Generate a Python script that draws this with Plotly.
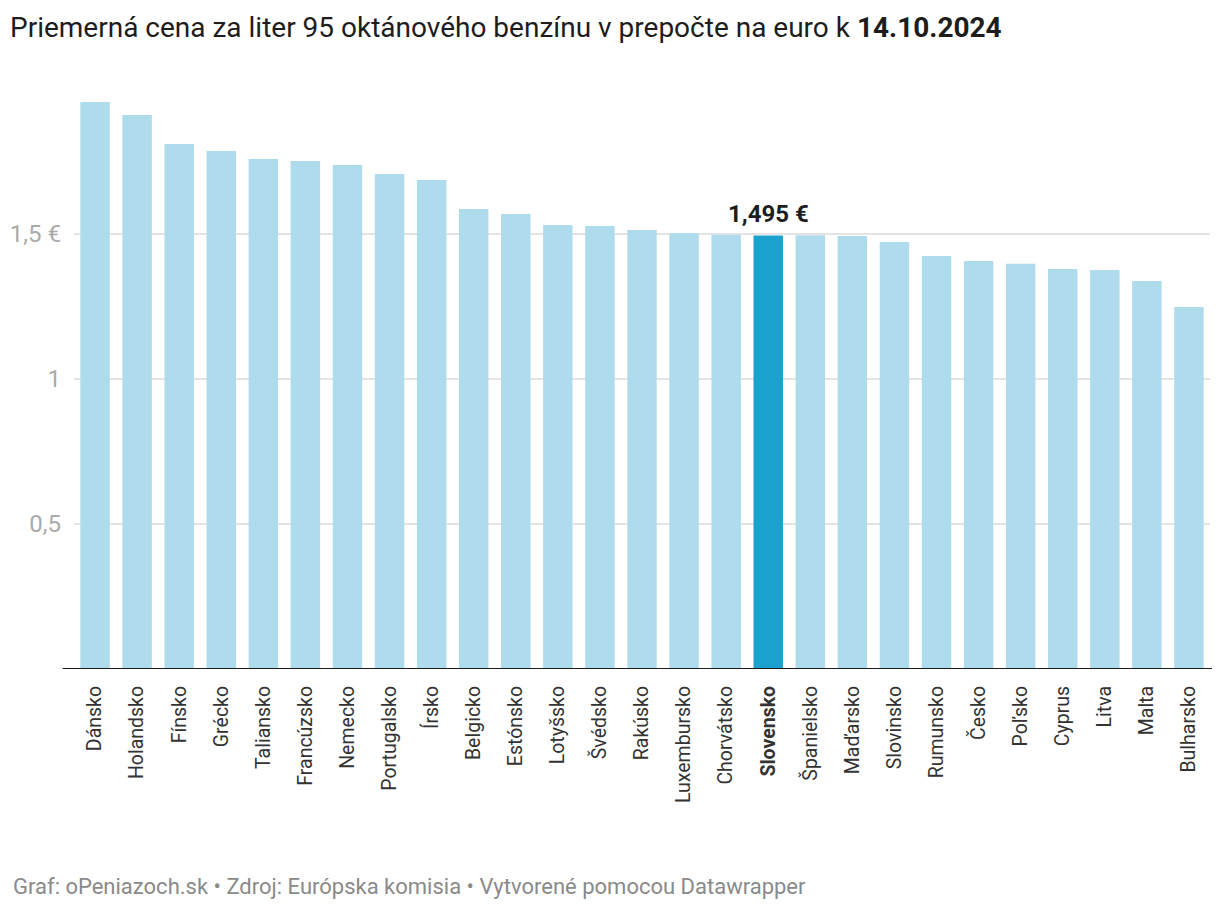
import plotly.graph_objects as go

countries = ["Dánsko", "Holandsko", "Fínsko", "Grécko", "Taliansko", "Francúzsko", "Nemecko",
             "Portugalsko", "Írsko", "Belgicko", "Estónsko", "Lotyšsko", "Švédsko", "Rakúsko",
             "Luxembursko", "Chorvátsko", "Slovensko", "Španielsko", "Maďarsko", "Slovinsko",
             "Rumunsko", "Česko", "Poľsko", "Cyprus", "Litva", "Malta", "Bulharsko"]
prices = [1.955, 1.910, 1.810, 1.786, 1.759, 1.752, 1.738,
          1.707, 1.686, 1.586, 1.569, 1.531, 1.528, 1.514,
          1.503, 1.497, 1.495, 1.496, 1.493, 1.472,
          1.424, 1.407, 1.397, 1.379, 1.376, 1.338, 1.248]
highlight = "Slovensko"
tick_vals = [0.5, 1, 1.5]
tick_text = ["0,5", "1", "1,5 €"]

colors = ["#1aa1cd" if c == highlight else "#aedcec" for c in countries]
x_labels = [f"<b>{c}</b>" if c == highlight else c for c in countries]

W, H = 1212, 904
L, R, T, B = 65.5, 10, 81, 243
PW, PH = W - L - R, H - T - B

fig = go.Figure(go.Bar(x=x_labels, y=prices, marker_color=colors, marker_line_width=0,
                       hoverinfo="x+y"))

hi = countries.index(highlight)
fig.add_annotation(x=x_labels[hi], y=prices[hi], text="<b>1,495 €</b>", showarrow=False,
                   yanchor="bottom", yshift=5, font=dict(size=24, color="#1d1d1d"))

fig.add_shape(type="line", xref="paper", yref="y", x0=-11.5 / PW, x1=1 + 2 / PW, y0=0, y1=0,
              line=dict(color="#1d1d1d", width=2))

fig.update_layout(
    width=W, height=H,
    margin=dict(l=L, r=R, t=T, b=B, autoexpand=False),
    paper_bgcolor="white", plot_bgcolor="white",
    font=dict(family="Roboto", color="#333333"),
    bargap=0.3,
    showlegend=False,
    title=dict(text="Priemerná cena za liter 95 oktánového benzínu v prepočte na euro k <b>14.10.2024</b>",
               xref="container", x=2 / W, xanchor="left",
               yref="container", y=1 - 19 / H, yanchor="middle",
               font=dict(size=28, color="#1d1d1d")),
)

fig.update_xaxes(tickangle=-90, tickfont=dict(size=19.5, color="#333333"), showgrid=False,
                 showline=False, ticks="", ticklen=0, range=[-0.5, 26.5],
                 ticklabelstandoff=12, automargin=False)
fig.update_yaxes(range=[0, 2.0], tickvals=tick_vals, ticktext=tick_text, showgrid=True,
                 gridcolor="#e4e4e4", gridwidth=2, zeroline=False, showline=False,
                 tickfont=dict(size=24, color="#aaaaaa"), ticks="", ticklabelstandoff=12,
                 automargin=False)

fig.add_annotation(xref="paper", yref="paper", x=-(L - 2) / PW, y=-(878 - (H - B)) / PH,
                   xanchor="left", yanchor="middle", showarrow=False,
                   text="Graf: oPeniazoch.sk • Zdroj: Európska komisia • Vytvorené pomocou Datawrapper",
                   font=dict(size=22, color="#8a8a8a"))

fig.write_html("out.html")
